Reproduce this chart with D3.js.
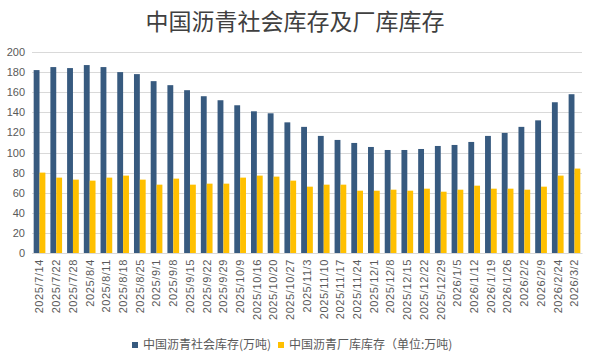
<!DOCTYPE html>
<html>
<head>
<meta charset="utf-8">
<script src="https://cdn.jsdelivr.net/npm/d3@7"></script>
<style>
  body { margin: 0; background: #fff; }
  text { font-family: "Noto Sans CJK SC", "Microsoft YaHei", sans-serif; }
</style>
</head>
<body>
<script>
// chart data
var dates = ["2025/7/14", "2025/7/22", "2025/7/28", "2025/8/4", "2025/8/11", "2025/8/18", "2025/8/25",
    "2025/9/1", "2025/9/8", "2025/9/15", "2025/9/22", "2025/9/29", "2025/10/9", "2025/10/16",
    "2025/10/20", "2025/10/27", "2025/11/3", "2025/11/10", "2025/11/17", "2025/11/24", "2025/12/1",
    "2025/12/8", "2025/12/15", "2025/12/22", "2025/12/29", "2026/1/5", "2026/1/12", "2026/1/19",
    "2026/1/26", "2026/2/2", "2026/2/9", "2026/2/24", "2026/3/2"];
var socialStock = [182, 185, 184, 187, 185, 180, 178, 171, 167, 162, 156, 152, 147, 141, 139, 130,
    125.5, 116.5, 112.5, 109.5, 105.5, 102.5, 102.5, 103.5, 106.5, 107.5, 110.5, 116.5, 119.5,
    125.5, 132, 150, 158];
var plantStock = [80, 75, 73, 72, 75, 77, 73, 68, 74, 68, 69, 69, 75, 77, 76, 72,
    66, 68, 68, 62, 62, 63, 62, 64, 61, 63, 67, 64, 64, 63, 66, 77, 84];
var yTicks = [0, 20, 40, 60, 80, 100, 120, 140, 160, 180, 200];
var seriesNames = ["中国沥青社会库存(万吨)", "中国沥青厂库库存（单位:万吨)"];
var colors = ["#375a7f", "#ffc000"];

var width = 593, height = 363;
var plot = {left: 32, right: 582, top: 52, bottom: 253};

var svg = d3.select("body").append("svg")
    .attr("width", width)
    .attr("height", height);

// scales
var x = d3.scaleBand()
    .domain(dates)
    .range([plot.left, plot.right])
    .paddingInner(0.3)
    .paddingOuter(0.1);
var xSub = d3.scaleBand()
    .domain([0, 1])
    .range([0, x.bandwidth()]);
var y = d3.scaleLinear()
    .domain([0, 200])
    .range([plot.bottom, plot.top]);

// title
svg.append("text")
    .attr("x", 295)
    .attr("y", 30)
    .attr("text-anchor", "middle")
    .attr("font-size", "23px")
    .attr("fill", "#404040")
    .text("中国沥青社会库存及厂库库存");

// gridlines
svg.append("g")
    .selectAll("line")
    .data(yTicks)
    .enter().append("line")
    .attr("x1", plot.left)
    .attr("x2", plot.right)
    .attr("y1", function(d) { return Math.round(y(d)) + 0.5; })
    .attr("y2", function(d) { return Math.round(y(d)) + 0.5; })
    .attr("stroke", "#d9d9d9")
    .attr("stroke-width", 1);

// y axis labels
var yAxis = svg.append("g")
    .attr("transform", "translate(" + plot.left + ",0)")
    .call(d3.axisLeft(y).tickValues(yTicks).tickSize(0).tickPadding(7));
yAxis.select(".domain").remove();
yAxis.selectAll("text")
    .attr("font-size", "11px")
    .attr("fill", "#595959")
    .style("font-family", "'Liberation Sans', Arial, sans-serif");

// bars
var series = [socialStock, plantStock];
series.forEach(function(vals, s) {
    svg.append("g")
        .selectAll("rect")
        .data(vals)
        .enter().append("rect")
        .attr("x", function(d, i) { return x(dates[i]) + xSub(s); })
        .attr("width", xSub.bandwidth())
        .attr("y", function(d) { return y(d); })
        .attr("height", function(d) { return y(0) - y(d); })
        .attr("fill", colors[s]);
});

// x axis
var xAxis = svg.append("g")
    .attr("transform", "translate(0," + plot.bottom + ")")
    .call(d3.axisBottom(x).tickSize(0).tickPadding(0));
xAxis.select(".domain")
    .attr("stroke", "#d9d9d9");
xAxis.selectAll("text")
    .attr("font-size", "11px")
    .attr("fill", "#595959")
    .attr("letter-spacing", "0.6px")
    .style("font-family", "'Liberation Sans', Arial, sans-serif")
    .attr("text-anchor", "end")
    .attr("dy", "0.35em")
    .attr("transform", "translate(0,6) rotate(-90)")
    .attr("x", 0)
    .attr("y", 0);

// legend
var legendX = [132, 278];
seriesNames.forEach(function(name, s) {
    svg.append("rect")
        .attr("x", legendX[s])
        .attr("y", 342)
        .attr("width", 6)
        .attr("height", 6)
        .attr("fill", colors[s]);
    svg.append("text")
        .attr("x", legendX[s] + 11)
        .attr("y", 349)
        .attr("font-size", "12px")
        .attr("fill", "#595959")
        .text(name);
});
</script>
</body>
</html>
